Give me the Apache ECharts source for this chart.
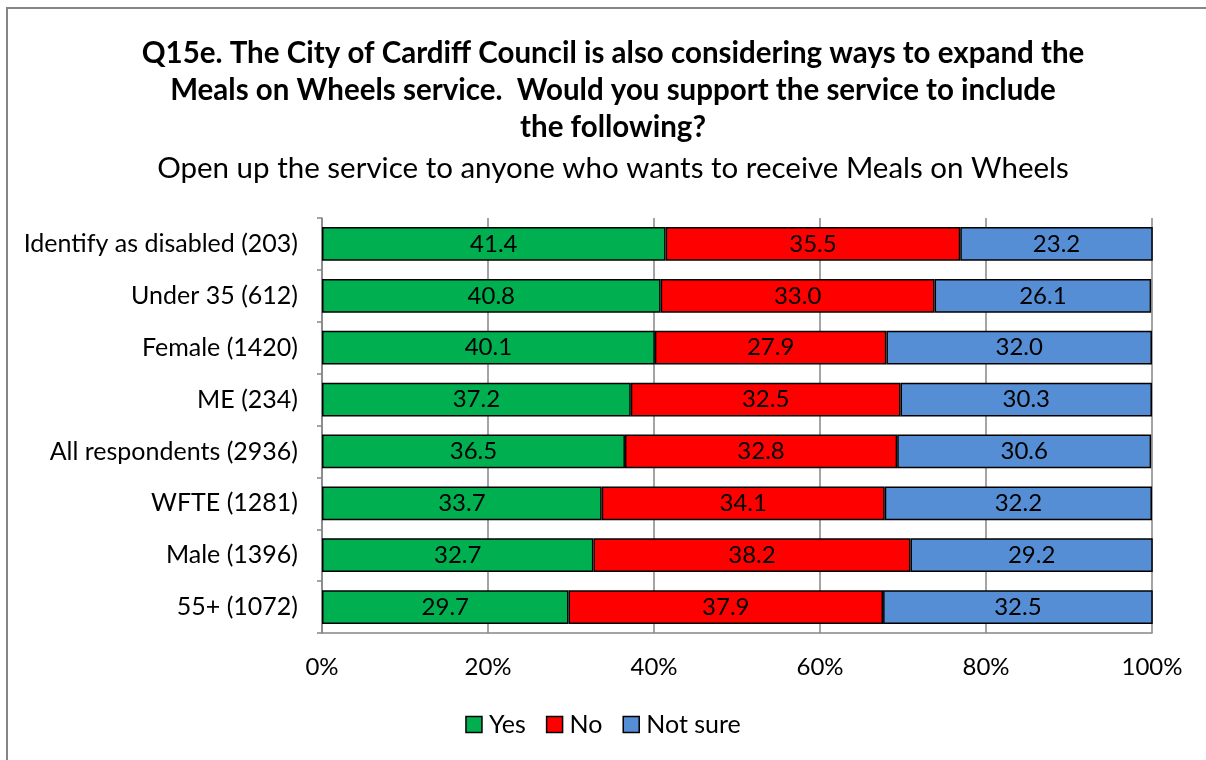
<!DOCTYPE html>
<html><head><meta charset="utf-8">
<script src="https://cdn.jsdelivr.net/npm/echarts@6/dist/echarts.min.js"></script>
<style>html,body{margin:0;padding:0;background:#fff}#c{width:1206px;height:760px}</style>
</head><body><div id="c"></div>
<script>
const categories = ["Identify as disabled (203)","Under 35 (612)","Female (1420)","ME (234)","All respondents (2936)","WFTE (1281)","Male (1396)","55+ (1072)"];
const yesValues = [41.4,40.8,40.1,37.2,36.5,33.7,32.7,29.7];
const noValues = [35.5,33.0,27.9,32.5,32.8,34.1,38.2,37.9];
const notSureValues = [23.2,26.1,32.0,30.3,30.6,32.2,29.2,32.5];
const seriesNames = ["Yes","No","Not sure"];
const xTicks = [0,20,40,60,80,100];

const FONT = 'Lato, "Open Sans", sans-serif';
const chart = echarts.init(document.getElementById('c'), null, {renderer:'canvas'});
const colors = ['#00B050','#FF0000','#558ED5'];
const mk = (name, data, color) => ({
  name, type:'bar', stack:'total', data, barWidth:'65%',
  itemStyle:{color, borderColor:'#000', borderWidth:1.5},
  label:{show:true, position:'inside', color:'#000', fontFamily:FONT, fontSize:24,
    formatter:p=>p.value.toFixed(1)},
  emphasis:{disabled:true}
});
chart.setOption({
  animation:false,
  textStyle:{fontFamily:FONT},
  graphic:[{type:'rect', shape:{x:7,y:8,width:1400,height:900}, style:{fill:'none', stroke:'#868686', lineWidth:2}}],
  title:[
    {text:'Q15e. The City of Cardiff Council is also considering ways to expand the\nMeals on Wheels service.  Would you support the service to include\nthe following?',
     left:608, top:30, textAlign:'center',
     textStyle:{fontFamily:FONT, fontWeight:'bold', fontSize:29.5, lineHeight:37, color:'#000'}},
    {text:'Open up the service to anyone who wants to receive Meals on Wheels',
     left:608, top:147, textAlign:'center',
     textStyle:{fontFamily:FONT, fontWeight:'normal', fontSize:29.5, lineHeight:32, color:'#000'}}
  ],
  legend:{
    data:seriesNames, bottom:18, left:'center', itemWidth:16, itemHeight:16, itemGap:20,
    icon:'rect',
    textStyle:{fontFamily:FONT, fontSize:25, color:'#000', padding:[0,0,0,2]},
    itemStyle:{borderColor:'#000', borderWidth:1.5}
  },
  grid:{left:322, right:54, top:218, bottom:127, containLabel:false},
  xAxis:{type:'value', min:0, max:100, interval:20,
    axisLabel:{formatter:v=>v+'%', fontFamily:FONT, fontSize:24, color:'#000', margin:22},
    axisLine:{show:true, lineStyle:{color:'#868686', width:1.5}},
    axisTick:{show:false},
    splitLine:{show:true, lineStyle:{color:'#868686', width:1.5}}
  },
  yAxis:{type:'category', data:categories, inverse:true,
    axisLabel:{fontFamily:FONT, fontSize:25, color:'#000', margin:24},
    axisLine:{show:true, lineStyle:{color:'#868686', width:1.5}},
    axisTick:{show:true, length:5, lineStyle:{color:'#868686', width:1.5}}
  },
  series:[mk(seriesNames[0], yesValues, colors[0]), mk(seriesNames[1], noValues, colors[1]), mk(seriesNames[2], notSureValues, colors[2])]
});
</script></body></html>
